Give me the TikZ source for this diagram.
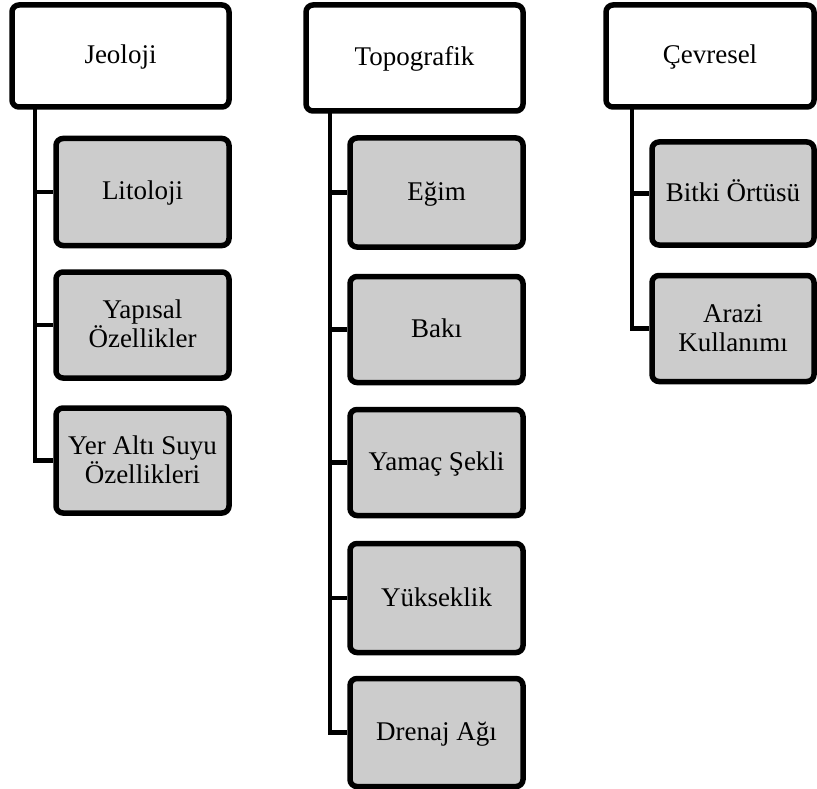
\documentclass[tikz,border=0pt]{standalone}
\usepackage{fontspec}
\setmainfont{Liberation Serif}
\newcommand\boxstrut{\rule[-6pt]{0pt}{28pt}}
\begin{document}
\begin{tikzpicture}[x=1pt,y=-1pt,
  box/.style={draw=black, line width=5.5pt, rounded corners=7pt, align=center,
    font=\fontsize{27}{27}\selectfont, inner sep=0pt},
  head/.style={box, fill=white},
  sub/.style={box, fill=gray!40},
  link/.style={line width=4.5pt, line join=miter}]
\useasboundingbox (0,0) rectangle (817,789);
% Jeoloji column
\node[head, minimum width=217pt, minimum height=102pt] (jeo) at (120.5,56) {\boxstrut Jeoloji};
\node[sub, minimum width=173pt, minimum height=107pt] (lit) at (142.5,192) {\boxstrut Litoloji};
\node[sub, minimum width=173pt, minimum height=106pt] (yap) at (142.5,325) {\boxstrut Yapısal\\Özellikler\boxstrut};
\node[sub, minimum width=173pt, minimum height=105pt] (yer) at (142.5,460.5) {\boxstrut Yer Altı Suyu\\Özellikleri\boxstrut};
\coordinate (jx) at (35,107);
\draw[link] (jx) |- (yer.west);
\draw[link] (jx |- lit.west) -- (lit.west);
\draw[link] (jx |- yap.west) -- (yap.west);
% Topografik column
\node[head, minimum width=217pt, minimum height=106pt] (top) at (414.5,58) {\boxstrut Topografik};
\node[sub, minimum width=173pt, minimum height=109pt] (egi) at (436.5,192.5) {\boxstrut Eğim};
\node[sub, minimum width=173pt, minimum height=106pt] (bak) at (436.5,329.5) {\boxstrut Bakı};
\node[sub, minimum width=173pt, minimum height=106pt] (yam) at (436.5,462.5) {\boxstrut Yamaç Şekli};
\node[sub, minimum width=173pt, minimum height=109pt] (yuk) at (436.5,598) {\boxstrut Yükseklik};
\node[sub, minimum width=173pt, minimum height=108pt] (dre) at (436.5,732.5) {\boxstrut Drenaj Ağı};
\coordinate (tx) at (330,111);
\draw[link] (tx) |- (dre.west);
\draw[link] (tx |- egi.west) -- (egi.west);
\draw[link] (tx |- bak.west) -- (bak.west);
\draw[link] (tx |- yam.west) -- (yam.west);
\draw[link] (tx |- yuk.west) -- (yuk.west);
% Cevresel column
\node[head, minimum width=208pt, minimum height=102pt] (cev) at (710,56) {\boxstrut Çevresel};
\node[sub, minimum width=162pt, minimum height=103pt] (bit) at (733,193.5) {\boxstrut Bitki Örtüsü};
\node[sub, minimum width=162pt, minimum height=106pt] (ara) at (733,328.5) {\boxstrut Arazi\\Kullanımı\boxstrut};
\coordinate (cx) at (632,107);
\draw[link] (cx) |- (ara.west);
\draw[link] (cx |- bit.west) -- (bit.west);
\end{tikzpicture}
\end{document}
